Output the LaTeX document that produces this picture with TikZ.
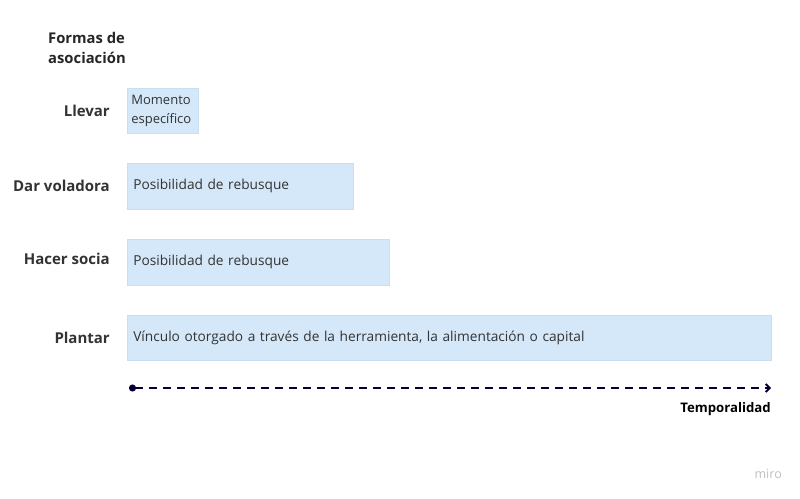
\documentclass[tikz,border=0pt]{standalone}
\usepackage{fontspec}
\setmainfont{Open Sans}
\usetikzlibrary{arrows.meta}
\definecolor{celeste}{RGB}{213,232,249}
\definecolor{borde}{RGB}{200,222,242}
\definecolor{tinta}{RGB}{51,51,51}
\definecolor{marino}{RGB}{5,0,56}
\tikzset{
	barra/.style={anchor=north west, fill=celeste, draw=borde, line width=0.6pt, inner xsep=6pt, align=left, font=\fontsize{13.7}{19}\selectfont, text=tinta},
	forma/.style={anchor=east, inner xsep=0pt, font=\fontsize{15}{18}\selectfont\bfseries, text=tinta}
}
\begin{document}
\begin{tikzpicture}[x=1pt,y=-1pt]
	\useasboundingbox (0,0) rectangle (800,498);
	\node (Titulo) at (48,48) [anchor=west, inner xsep=0pt, align=left, font=\fontsize{14.8}{20}\selectfont\bfseries, text=black!85] {Formas de\\asociación};
	\node (Llevar) at (110,111) [forma] {Llevar};
	\node (Voladora) at (110,186) [forma] {Dar voladora};
	\node (Socia) at (110,259) [forma] {Hacer socia};
	\node (Plantar) at (110,338) [forma] {Plantar};
	\node (BLlevar) at (127,88) [barra, inner xsep=4pt, font=\fontsize{13}{19}\selectfont, minimum width=71pt, minimum height=45pt, text width=63pt] {Momento\\específico};
	\node (BVoladora) at (127,163) [barra, minimum width=226pt, minimum height=46pt, text width=214pt] {Posibilidad de rebusque};
	\node (BSocia) at (127,239) [barra, minimum width=262pt, minimum height=46pt, text width=250pt] {Posibilidad de rebusque};
	\node (BPlantar) at (127,315) [barra, minimum width=644pt, minimum height=45pt, text width=632pt] {Vínculo otorgado a través de la herramienta, la alimentación o capital};
	\coordinate (Inicio) at (129,388);
	\coordinate (Fin) at (771,388);
	\draw [marino, line width=1.8pt, dash pattern=on 8pt off 6pt, {Circle[length=7pt]}-{Straight Barb[length=4pt,width=8pt]}] (Inicio) -- (Fin);
	\node (Tiempo) at (771,409) [anchor=east, inner xsep=0pt, font=\fontsize{13.2}{15}\selectfont\bfseries, text=black] {Temporalidad};
	\node (Miro) at (782,474) [anchor=east, inner xsep=0pt, font=\fontsize{12.5}{14}\selectfont, text=black!25] {miro};
\end{tikzpicture}
\end{document}
